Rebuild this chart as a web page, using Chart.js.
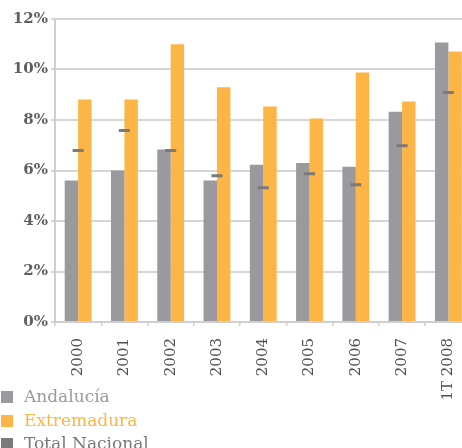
<!DOCTYPE html>
<html>
<head>
<meta charset="utf-8">
<script src="https://cdn.jsdelivr.net/npm/chart.js@4"></script>
<style>
  html, body { margin: 0; padding: 0; background: #fff; overflow: hidden; }
  #wrap { position: relative; width: 480px; height: 448px; }
  #legend { position: absolute; left: 1px; top: 386px; font-family: "DejaVu Serif", serif; font-size: 17px; }
  #legend div { height: 23.5px; line-height: 20px; white-space: nowrap; }
  #legend span.box { display: inline-block; width: 12px; height: 12px; margin-right: 11px; vertical-align: -1px; }
</style>
</head>
<body>
<div id="wrap">
  <canvas id="myChart" width="480" height="448"></canvas>
  <div id="legend"></div>
</div>
<script>
const categories = ["2000", "2001", "2002", "2003", "2004", "2005", "2006", "2007", "1T 2008"];
const andalucia = [5.6, 6.0, 6.83, 5.6, 6.23, 6.3, 6.15, 8.33, 11.07];
const extremadura = [8.81, 8.81, 11.0, 9.3, 8.53, 8.06, 9.88, 8.73, 10.71];
const totalNacional = [6.79, 7.58, 6.79, 5.79, 5.32, 5.87, 5.44, 6.98, 9.09];
const yTicks = [0, 2, 4, 6, 8, 10, 12];

const grey = "#9a9a9e";
const orange = "#fdb545";
const dark = "#7a7a7a";

const ctx = document.getElementById("myChart").getContext('2d');

const myChart = new Chart(ctx, {
  type: 'bar',
  data: {
    labels: categories,
    datasets: [{
      label: "Andalucía",
      data: andalucia,
      backgroundColor: grey,
      categoryPercentage: 0.58,
      barPercentage: 1.0,
      order: 2
    }, {
      label: "Extremadura",
      data: extremadura,
      backgroundColor: orange,
      categoryPercentage: 0.58,
      barPercentage: 1.0,
      order: 2
    }, {
      type: 'line',
      label: "Total Nacional",
      data: totalNacional,
      showLine: false,
      pointStyle: 'line',
      pointRadius: 5.5,
      pointHoverRadius: 5.5,
      borderColor: dark,
      backgroundColor: dark,
      borderWidth: 3,
      pointBorderWidth: 3,
      order: 0
    }]
  },
  options: {
    responsive: false,
    devicePixelRatio: 1,
    animation: false,
    layout: { padding: { top: 19, right: 5, left: 0, bottom: 0 } },
    plugins: {
      legend: { display: false },
      tooltip: { enabled: false }
    },
    scales: {
      x: {
        offset: true,
        grid: { display: true, drawOnChartArea: false, drawTicks: true, tickLength: 4, color: "#cfcfcf", lineWidth: 1.5, offset: true },
        border: { color: "#cfcfcf", width: 2 },
        ticks: {
          minRotation: 90,
          maxRotation: 90,
          padding: 12,
          color: "#505050",
          font: { family: "DejaVu Serif", size: 15 }
        },
        afterFit: (scale) => { scale.height = 126; }
      },
      y: {
        min: 0,
        max: 12,
        afterBuildTicks: (scale) => { scale.ticks = yTicks.map(v => ({ value: v })); },
        grid: { color: "#d6d6d6", lineWidth: 2, tickLength: 4 },
        border: { color: "#cfcfcf", width: 2 },
        ticks: {
          padding: 3,
          color: "#5f5f5f",
          font: { family: "DejaVu Serif", size: 15, weight: 'bold' },
          callback: (v) => v + "%"
        },
        afterFit: (scale) => { scale.width = 55; }
      }
    }
  }
});

// legend as plain html below the chart, one entry per line
const legend = document.getElementById("legend");
const textColors = [grey, orange, dark];
myChart.data.datasets.forEach((ds, i) => {
  const row = document.createElement("div");
  row.style.color = textColors[i];
  row.innerHTML = '<span class="box" style="background:' + (ds.type === 'line' ? ds.borderColor : ds.backgroundColor) + '"></span>' + ds.label;
  legend.appendChild(row);
});
</script>
</body>
</html>
